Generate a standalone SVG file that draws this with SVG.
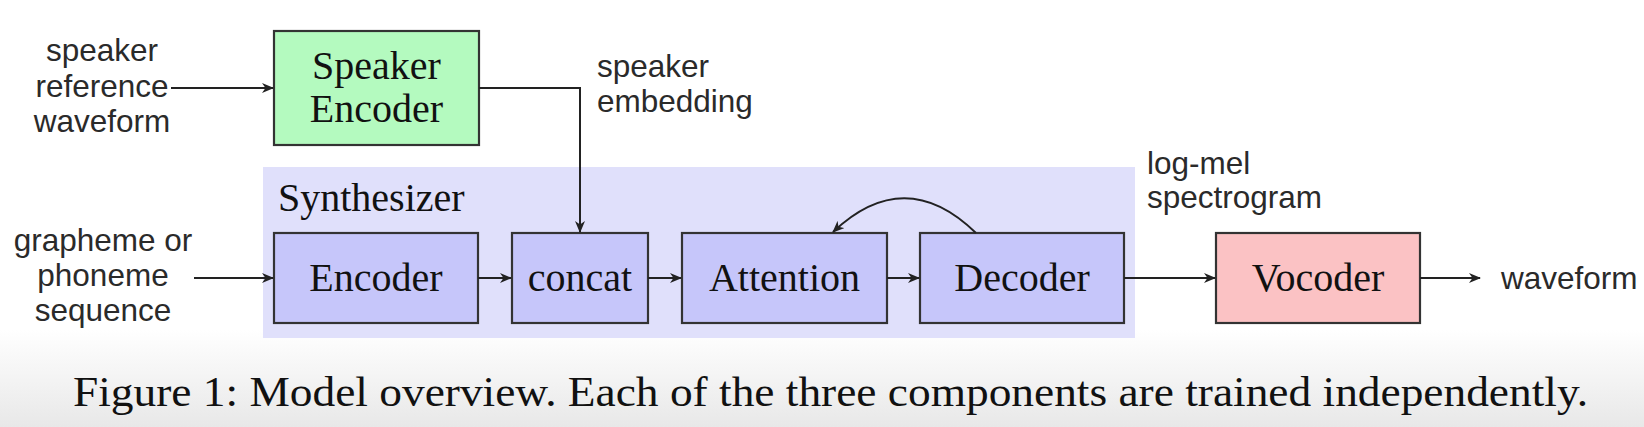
<svg xmlns="http://www.w3.org/2000/svg" width="1644" height="427" viewBox="0 0 1644 427">
<defs>
<linearGradient id="bot" x1="0" y1="0" x2="0" y2="1">
<stop offset="0" stop-color="#ffffff"/>
<stop offset="1" stop-color="#e8e8e8"/>
</linearGradient>
<marker id="ah" viewBox="0 0 12 10" refX="11" refY="5" markerWidth="12" markerHeight="10" markerUnits="userSpaceOnUse" orient="auto">
<path d="M0,0 L12,5 L0,10 L3.5,5 Z" fill="#222"/>
</marker>
</defs>
<style>
.box{stroke:#333;stroke-width:2.2}
.syn{fill:#c6c6fa}
.lbl{font-family:"Liberation Serif","Times New Roman",serif;font-size:40px;fill:#111;text-anchor:middle}
.sans{font-family:"Liberation Sans",Arial,sans-serif;font-size:31.5px;fill:#2a2a2a}
.mid{text-anchor:middle}
.wire{fill:none;stroke:#222;stroke-width:2}
</style>
<rect x="0" y="0" width="1644" height="427" fill="#ffffff"/>
<rect x="0" y="330" width="1644" height="97" fill="url(#bot)"/>

<g id="synthesizer">
<rect x="263" y="167" width="872" height="171" fill="#e0e0fb"/>
<text x="278" y="211" font-family="'Liberation Serif','Times New Roman',serif" font-size="40" fill="#111">Synthesizer</text>
</g>

<g id="speaker-encoder">
<rect class="box" x="274" y="31" width="205" height="114" fill="#b4fabf"/>
<text class="lbl" x="376.5" y="79">Speaker</text>
<text class="lbl" x="376.5" y="122">Encoder</text>
</g>

<g id="encoder">
<rect class="box syn" x="274" y="233" width="204" height="90"/>
<text class="lbl" x="376" y="291">Encoder</text>
</g>

<g id="concat">
<rect class="box syn" x="512" y="233" width="136" height="90"/>
<text class="lbl" x="580" y="291">concat</text>
</g>

<g id="attention">
<rect class="box syn" x="682" y="233" width="205" height="90"/>
<text class="lbl" x="784.5" y="291">Attention</text>
</g>

<g id="decoder">
<rect class="box syn" x="920" y="233" width="204" height="90"/>
<text class="lbl" x="1022" y="291">Decoder</text>
</g>

<g id="vocoder">
<rect class="box" x="1216" y="233" width="204" height="90" fill="#fbc2c4"/>
<text class="lbl" x="1318" y="291">Vocoder</text>
</g>

<g id="labels">
<text class="sans mid" x="102" y="61">speaker</text>
<text class="sans mid" x="102" y="97">reference</text>
<text class="sans mid" x="102" y="132">waveform</text>
<text class="sans mid" x="103" y="251">grapheme or</text>
<text class="sans mid" x="103" y="286">phoneme</text>
<text class="sans mid" x="103" y="321">sequence</text>
<text class="sans" x="597" y="77">speaker</text>
<text class="sans" x="597" y="112">embedding</text>
<text class="sans" x="1147" y="174">log-mel</text>
<text class="sans" x="1147" y="208">spectrogram</text>
<text class="sans" x="1501" y="289">waveform</text>
</g>

<g id="connectors">
<line class="wire" x1="171" y1="88" x2="273" y2="88" marker-end="url(#ah)"/>
<polyline class="wire" points="479,88 580,88 580,232" marker-end="url(#ah)"/>
<line class="wire" x1="194" y1="278" x2="273" y2="278" marker-end="url(#ah)"/>
<line class="wire" x1="478" y1="278" x2="511" y2="278" marker-end="url(#ah)"/>
<line class="wire" x1="648" y1="278" x2="681" y2="278" marker-end="url(#ah)"/>
<line class="wire" x1="887" y1="278" x2="919" y2="278" marker-end="url(#ah)"/>
<line class="wire" x1="1124" y1="278" x2="1215" y2="278" marker-end="url(#ah)"/>
<line class="wire" x1="1420" y1="278" x2="1480" y2="278" marker-end="url(#ah)"/>
<path class="wire" d="M976,233 Q905,164 833,232" marker-end="url(#ah)"/>
</g>

<g id="caption">
<text x="73" y="406" font-family="'Liberation Serif','Times New Roman',serif" font-size="43" fill="#111" textLength="1515" lengthAdjust="spacingAndGlyphs">Figure 1: Model overview. Each of the three components are trained independently.</text>
</g>
</svg>
